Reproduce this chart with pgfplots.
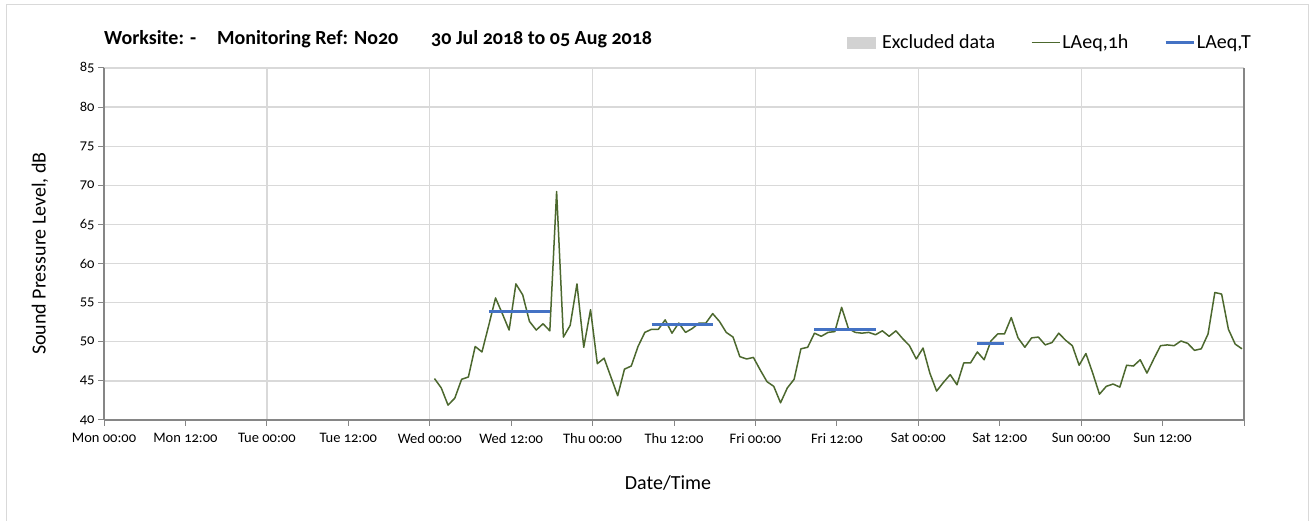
\documentclass[border=0pt]{standalone}
\usepackage{fontspec}
\setmainfont{Carlito}[Numbers=OldStyle]
\usepackage{pgfplots}
\pgfplotsset{compat=1.18}
\definecolor{grn}{RGB}{76,104,46}
\definecolor{blu}{RGB}{68,114,196}
\definecolor{gridc}{RGB}{217,217,217}
\definecolor{axc}{RGB}{134,134,134}
\definecolor{exc}{RGB}{210,210,210}
\begin{document}
\begin{tikzpicture}
\path[use as bounding box] (0pt,0pt) rectangle (1311pt,521pt);
\draw[gridc, line width=1pt] (6pt,-5pt) -- (6pt,516pt) -- (1308pt,516pt) -- (1308pt,-5pt);
\node[anchor=base west, font=\fontsize{20}{24}\selectfont\bfseries, inner sep=0pt] at (104pt,476pt) {Worksite: -};
\node[anchor=base west, font=\fontsize{20}{24}\selectfont\bfseries, inner sep=0pt] at (217pt,476pt) {Monitoring Ref: No20};
\node[anchor=base west, font=\fontsize{20}{24}\selectfont\bfseries, inner sep=0pt] at (431pt,476pt) {30 Jul 2018 to 05 Aug 2018};
\begin{axis}[
  at={(104pt,101pt)}, anchor=south west,
  scale only axis, width=1140pt, height=352pt,
  xmin=0, xmax=168, ymin=40, ymax=85,
  axis lines=left, axis line style={-, axc, line width=1.2pt},
  xtick={0,24,...,168},
  xticklabels={Mon 00:00,Tue 00:00,Wed 00:00,Thu 00:00,Fri 00:00,Sat 00:00,Sun 00:00,},
  extra x ticks={12,36,...,156},
  extra x tick labels={Mon 12:00,Tue 12:00,Wed 12:00,Thu 12:00,Fri 12:00,Sat 12:00,Sun 12:00},
  extra x tick style={grid=none},
  ytick={40,45,...,85},
  xmajorgrids, ymajorgrids,
  grid style={gridc, line width=1.3pt},
  tick align=outside, major tick length=6pt,
  tick style={axc, line width=1pt},
  /pgf/number format/assume math mode=true,
  tick label style={font=\fontsize{14.5}{17}\selectfont},
  xticklabel style={yshift=-4pt},
  yticklabel style={xshift=0pt},
  xlabel={Date/Time}, ylabel={Sound Pressure Level, dB},
  label style={font=\fontsize{20}{24}\selectfont},
  xlabel style={at={(axis description cs:0.4947,-0.179)}, anchor=center},
  ylabel style={at={(axis description cs:-0.0561,0.473)}, anchor=center},
  legend style={at={(axis description cs:1.0105,1.0724)}, anchor=east, draw=none, fill=none,
    font=\fontsize{20}{24}\selectfont, legend columns=3,
    /tikz/every even column/.append style={column sep=34pt},
    nodes={inner sep=2pt}},
  legend cell align=left,
  clip=false,
]
\addlegendimage{legend image code/.code={\fill[exc] (-6pt,-5.5pt) rectangle (22pt,5.5pt); \path (27pt,0pt);}}
\addlegendentry{Excluded data}
\addplot[grn, line width=1.5pt, line join=round,
  legend image code/.code={\draw[grn, line width=1.2pt] (-3pt,0pt) -- (25pt,0pt);}] coordinates {
(48.7,45.3) (49.7,44.1) (50.7,41.9) (51.7,42.8) (52.7,45.2) (53.7,45.5) (54.7,49.4) (55.7,48.7)
(56.7,52.1) (57.7,55.6) (58.7,53.6) (59.7,51.5) (60.7,57.4) (61.7,56.0) (62.7,52.6) (63.7,51.5)
(64.7,52.3) (65.7,51.4) (66.7,69.2) (67.7,50.6) (68.7,52.1) (69.7,57.4) (70.7,49.3) (71.7,54.1)
(72.7,47.2) (73.7,47.9) (74.7,45.5) (75.7,43.1) (76.7,46.5) (77.7,46.9) (78.7,49.4) (79.7,51.2)
(80.7,51.6) (81.7,51.6) (82.7,52.8) (83.7,51.1) (84.7,52.4) (85.7,51.2) (86.7,51.7) (87.7,52.4)
(88.7,52.4) (89.7,53.6) (90.7,52.6) (91.7,51.2) (92.7,50.6) (93.7,48.1) (94.7,47.8) (95.7,48.0)
(96.7,46.4) (97.7,44.9) (98.7,44.3) (99.7,42.2) (100.7,44.1) (101.7,45.2) (102.7,49.1) (103.7,49.3)
(104.7,51.1) (105.7,50.7) (106.7,51.2) (107.7,51.3) (108.7,54.4) (109.7,51.7) (110.7,51.2) (111.7,51.1)
(112.7,51.2) (113.7,50.9) (114.7,51.4) (115.7,50.7) (116.7,51.4) (117.7,50.4) (118.7,49.5) (119.7,47.8)
(120.7,49.2) (121.7,46.0) (122.7,43.7) (123.7,44.8) (124.7,45.8) (125.7,44.5) (126.7,47.3) (127.7,47.3)
(128.7,48.7) (129.7,47.7) (130.7,50.1) (131.7,51.0) (132.7,51.0) (133.7,53.1) (134.7,50.5) (135.7,49.3)
(136.7,50.5) (137.7,50.6) (138.7,49.6) (139.7,49.9) (140.7,51.1) (141.7,50.2) (142.7,49.5) (143.7,47.0)
(144.7,48.5) (145.7,46.0) (146.7,43.3) (147.7,44.3) (148.7,44.6) (149.7,44.2) (150.7,47.0) (151.7,46.9)
(152.7,47.7) (153.7,46.0) (154.7,47.8) (155.7,49.5) (156.7,49.6) (157.7,49.5) (158.7,50.1) (159.7,49.8)
(160.7,48.9) (161.7,49.1) (162.7,51.0) (163.7,56.3) (164.7,56.1) (165.7,51.6) (166.7,49.7) (167.7,49.1)
};
\addlegendentry{LAeq,1h}
\addplot[blu, line width=3pt, unbounded coords=jump,
  legend image code/.code={\draw[blu, line width=2.5pt] (-3pt,0pt) -- (25pt,0pt);}] coordinates {
(56.7,53.9) (65.7,53.9) (70,nan)
(80.7,52.2) (89.7,52.2) (95,nan)
(104.7,51.6) (113.7,51.6) (120,nan)
(128.7,49.8) (132.7,49.8)
};
\addlegendentry{LAeq,T}
\draw[axc, line width=1.2pt] (rel axis cs:1,0) -- (rel axis cs:1,1);
\end{axis}
\end{tikzpicture}
\end{document}
